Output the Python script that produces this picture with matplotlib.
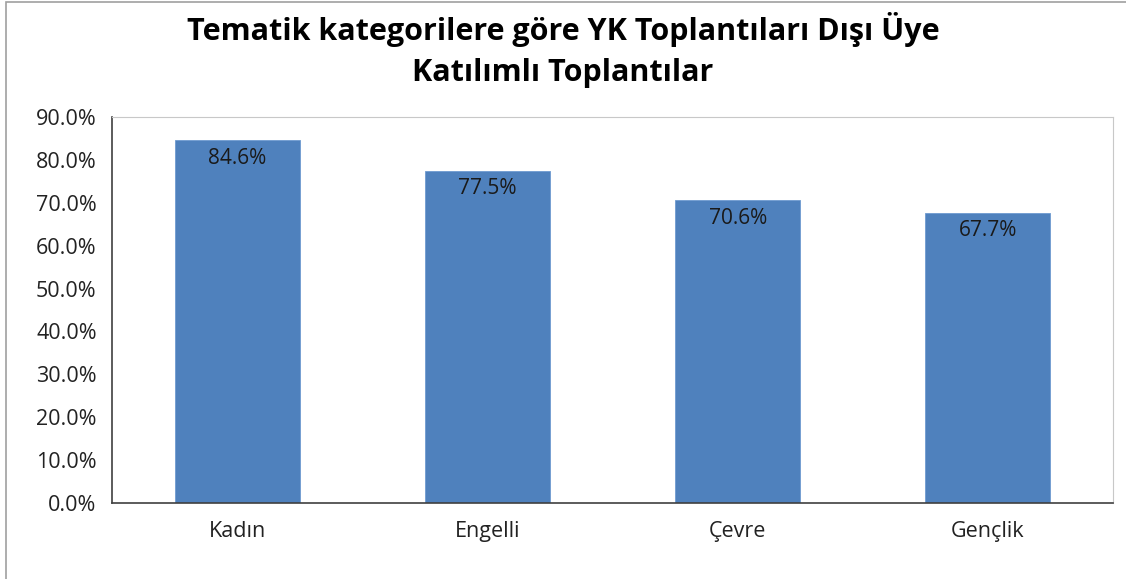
import matplotlib.pyplot as plt
from matplotlib.patches import Rectangle

kategoriler = ['Kadın', 'Engelli', 'Çevre', 'Gençlik']
oranlar = [84.6, 77.5, 70.6, 67.7]
y_ticks = [0, 10, 20, 30, 40, 50, 60, 70, 80, 90]
baslik = 'Tematik kategorilere göre YK Toplantıları Dışı Üye\nKatılımlı Toplantılar'

plt.rcParams['font.family'] = ['Open Sans', 'DejaVu Sans']

fig = plt.figure(figsize=(11.26, 5.79), dpi=100)
ax = fig.add_axes([112/1126, 1-503/579, 1001/1126, 386/579])

x = list(range(len(kategoriler)))
bars = ax.bar(x, oranlar, width=0.5, color='#4F81BD', edgecolor='#6E9AD0', linewidth=0.6)

for i, v in enumerate(oranlar):
    ax.text(i, v - 1.8, '%.1f%%' % v, ha='center', va='top', fontsize=15, color='#1a1a1a')

ax.set_xlim(-0.5, 3.5)
ax.set_ylim(0, 90)
ax.set_yticks(y_ticks)
ax.set_yticklabels(['%.1f%%' % t for t in y_ticks], fontsize=15.5, color='#222222')
ax.set_xticks(x)
ax.set_xticklabels(kategoriler, fontsize=15.5, color='#222222')
ax.tick_params(axis='both', length=0)
ax.tick_params(axis='y', pad=11)
ax.tick_params(axis='x', pad=13)

ax.spines['left'].set_color('#404040')
ax.spines['bottom'].set_color('#404040')
ax.spines['left'].set_linewidth(1.2)
ax.spines['bottom'].set_linewidth(1.2)
ax.spines['top'].set_color('#c8c8c8')
ax.spines['right'].set_color('#c8c8c8')

fig.text(0.5, 1-50/579, baslik, ha='center', va='center', fontsize=22, fontweight='bold',
         linespacing=1.45)

# dış çerçeve
fig.patches.append(Rectangle((6/1126, -0.01), 1.1, 1.0 - 1.5/579 + 0.01, transform=fig.transFigure,
                             fill=False, edgecolor='#a0a0a0', linewidth=1.2))

plt.savefig('out.png', dpi=100)
plt.close()
